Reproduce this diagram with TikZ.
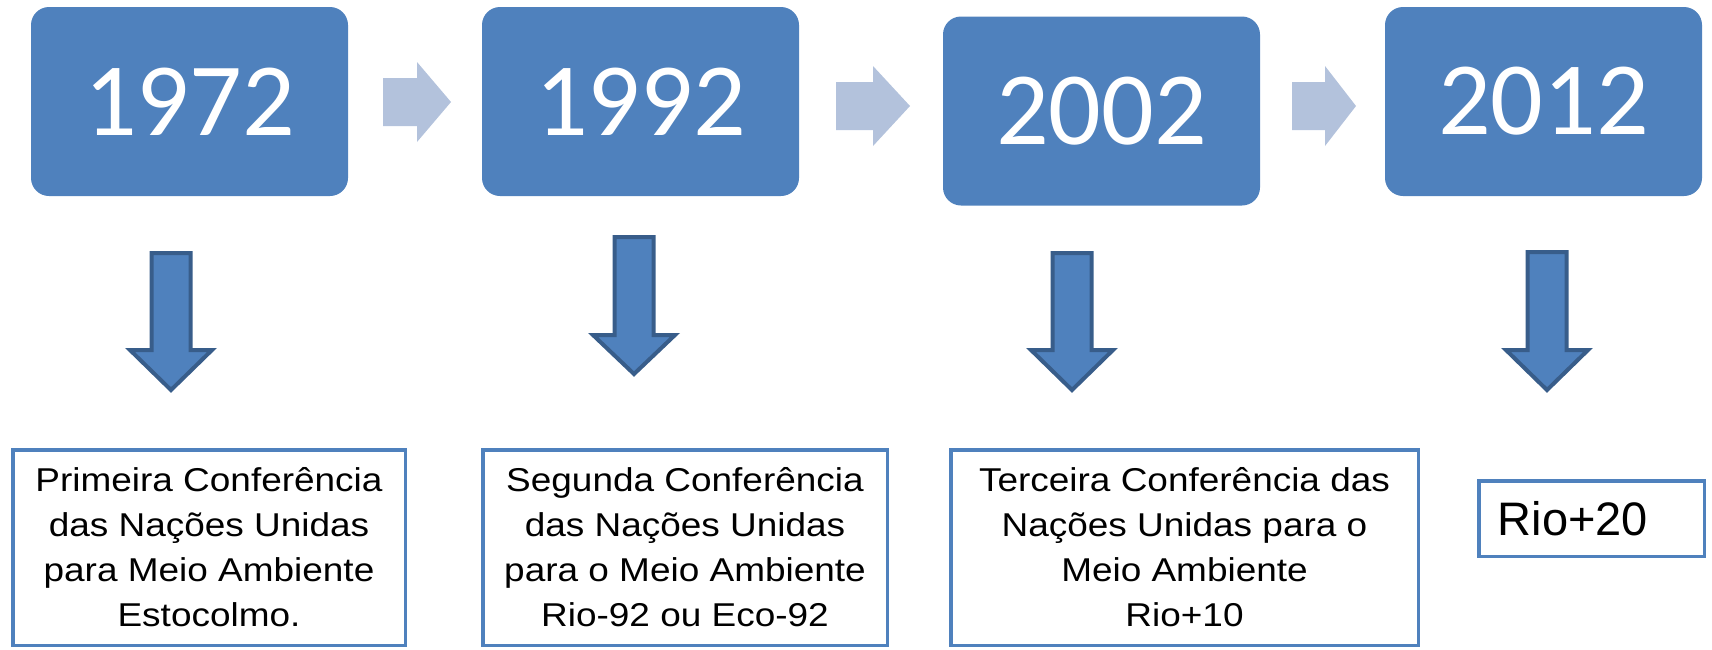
\documentclass[tikz,border=0pt]{standalone}
\usepackage{fontspec}
\setmainfont{Liberation Sans}
\newfontfamily\yearfont{Carlito}
\newfontfamily\notefont[FakeStretch=1.12]{Liberation Sans}
\definecolor{officeblue}{HTML}{4F81BD}
\definecolor{darkblue}{HTML}{385D8A}
\definecolor{paleblue}{HTML}{B3C2DC}

\begin{document}
\begin{tikzpicture}[x=1pt,y=-1pt,
  yearbox/.style={fill=officeblue,rounded corners=18pt,minimum width=317pt,minimum height=189pt,
    text=white,font=\yearfont\fontsize{104}{120}\selectfont},
  notebox/.style={draw=officeblue,line width=3.5pt,align=center,
    font=\notefont\fontsize{33}{45}\selectfont},
  downarrow/.style={fill=officeblue,draw=darkblue,line width=4pt,line join=miter},
  rightarrow/.style={fill=paleblue}]
\useasboundingbox (0,0) rectangle (1712,649);
\foreach \n/\x/\y/\t in {y1/189.5/101.5/1972,y2/640.5/101.5/1992,y3/1101.5/111/2002,y4/1543.5/101.5/2012}
  \node[yearbox](\n)at(\x,\y){\t};
\foreach \xa/\xb/\xc/\ym in {383/417/451/102,836/873/910/106,1292/1325/1356/106}
  \fill[rightarrow](\xa,{\ym-24})--(\xb,{\ym-24})--(\xb,{\ym-40})--(\xc,\ym)
    --(\xb,{\ym+40})--(\xb,{\ym+24})--(\xa,{\ym+24})--cycle;
\foreach \cx/\ya/\yb/\yc in {171/251/348/393,634/235/333/377,1072/251/348/393,1547/250/348/393}
  \draw[downarrow]({\cx-19.5},{\ya+2})--({\cx+19.5},{\ya+2})--({\cx+19.5},{\yb+2})--({\cx+41},{\yb+2})
    --(\cx,{\yc-3})--({\cx-41},{\yb+2})--({\cx-19.5},{\yb+2})--cycle;
\node[notebox,minimum width=392.5pt,minimum height=195.5pt](t1)at(209,547.5)
  {Primeira Conferência\\das Nações Unidas\\para Meio Ambiente\\Estocolmo.};
\node[notebox,minimum width=404.5pt,minimum height=195.5pt](t2)at(685,547.5)
  {Segunda Conferência\\das Nações Unidas\\para o Meio Ambiente\\Rio-92 ou Eco-92};
\node[notebox,minimum width=467.5pt,minimum height=195.5pt](t3)at(1184.5,547.5)
  {Terceira Conferência das\\Nações Unidas para o\\Meio Ambiente\\Rio+10};
\node[notebox,align=left,font=\fontsize{47}{52}\selectfont,inner xsep=19pt,text width=187.5pt,
  minimum height=75.5pt](t4)at(1591.5,518.5){Rio+20};
\end{tikzpicture}
\end{document}
